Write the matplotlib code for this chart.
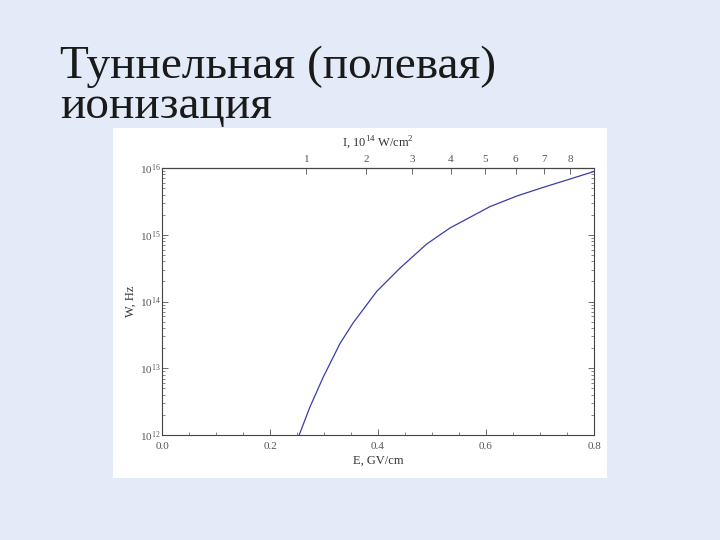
import numpy as np
import matplotlib
matplotlib.use('Agg')
import matplotlib.pyplot as plt
from matplotlib.patches import Rectangle
from matplotlib.ticker import MultipleLocator, LogLocator, NullFormatter

plt.rcParams['font.family'] = ['Liberation Serif', 'DejaVu Serif']
plt.rcParams['mathtext.fontset'] = 'custom'
plt.rcParams['mathtext.rm'] = 'Liberation Serif'

# field strength, GV/cm and log10 of the rate W, Hz
field = [0.254, 0.274, 0.2987, 0.3296, 0.354, 0.3975, 0.4407, 0.490,
         0.533, 0.607, 0.657, 0.706, 0.7556, 0.799]
log_rate = [12.0, 12.42, 12.87, 13.37, 13.68, 14.15, 14.50, 14.86,
            15.10, 15.42, 15.58, 15.71, 15.835, 15.945]
intensity_ticks = [1, 2, 3, 4, 5, 6, 7, 8]

title = 'Туннельная (полевая)\nионизация'

bg = '#e2ebf7'
tick_col = '#555555'

fig = plt.figure(figsize=(7.2, 5.4), dpi=100)
fig.patch.set_facecolor(bg)

# white panel the chart is pasted on
fig.patches.append(Rectangle((113 / 720, 1 - 478 / 540), 494 / 720, 350 / 540,
                             transform=fig.transFigure, facecolor='white',
                             edgecolor='none', zorder=-1))

fig.text(60 / 720, 1 - 118 / 540, title, fontsize=34, color='#1a1a1a',
         ha='left', va='baseline', linespacing=0.93)

ax = fig.add_axes([162 / 720, 1 - 435 / 540, 432 / 720, 267 / 540])
ax.set_zorder(2)
ax.set_facecolor('white')
ax.plot(field, 10.0 ** np.array(log_rate), color='#3c3ca8', lw=0.9)

ax.set_yscale('log')
ax.set_xlim(0, 0.8)
ax.set_ylim(1e12, 1e16)
ax.xaxis.set_major_locator(MultipleLocator(0.2))
ax.xaxis.set_minor_locator(MultipleLocator(0.05))
ax.yaxis.set_major_locator(LogLocator(base=10, numticks=10))
ax.yaxis.set_minor_locator(LogLocator(base=10, subs=np.arange(2, 10), numticks=10))
ax.yaxis.set_minor_formatter(NullFormatter())
ax.xaxis.set_major_formatter(plt.FuncFormatter(lambda v, p: '%.1f' % v))

ax.tick_params(which='both', direction='in', colors=tick_col, labelsize=8,
               right=True)
ax.tick_params(which='major', length=4, width=0.6)
ax.tick_params(which='minor', length=2, width=0.5)
ax.tick_params(axis='y', pad=1)
ax.tick_params(axis='x', pad=5)
for s in ax.spines.values():
    s.set_color('#444444')
    s.set_linewidth(0.8)

ax.set_xlabel('E, GV/cm', fontsize=9, color='#333333', labelpad=3)
ax.set_ylabel('W, Hz', fontsize=9, color='#333333', labelpad=2)

top = ax.secondary_xaxis('top', functions=(lambda e: 14.0 * np.asarray(e) ** 2,
                                           lambda i: np.sqrt(np.clip(i, 0, None) / 14.0)))
top.set_xticks(intensity_ticks)
top.set_xticklabels([str(i) for i in intensity_ticks])
top.tick_params(direction='in', colors=tick_col, labelsize=8, length=4, width=0.6, pad=3)
top.set_xlabel('I, 10$^{14}$ W/cm$^2$', fontsize=9, color='#333333', labelpad=6)

fig.savefig('out.png', dpi=100, facecolor=bg)
